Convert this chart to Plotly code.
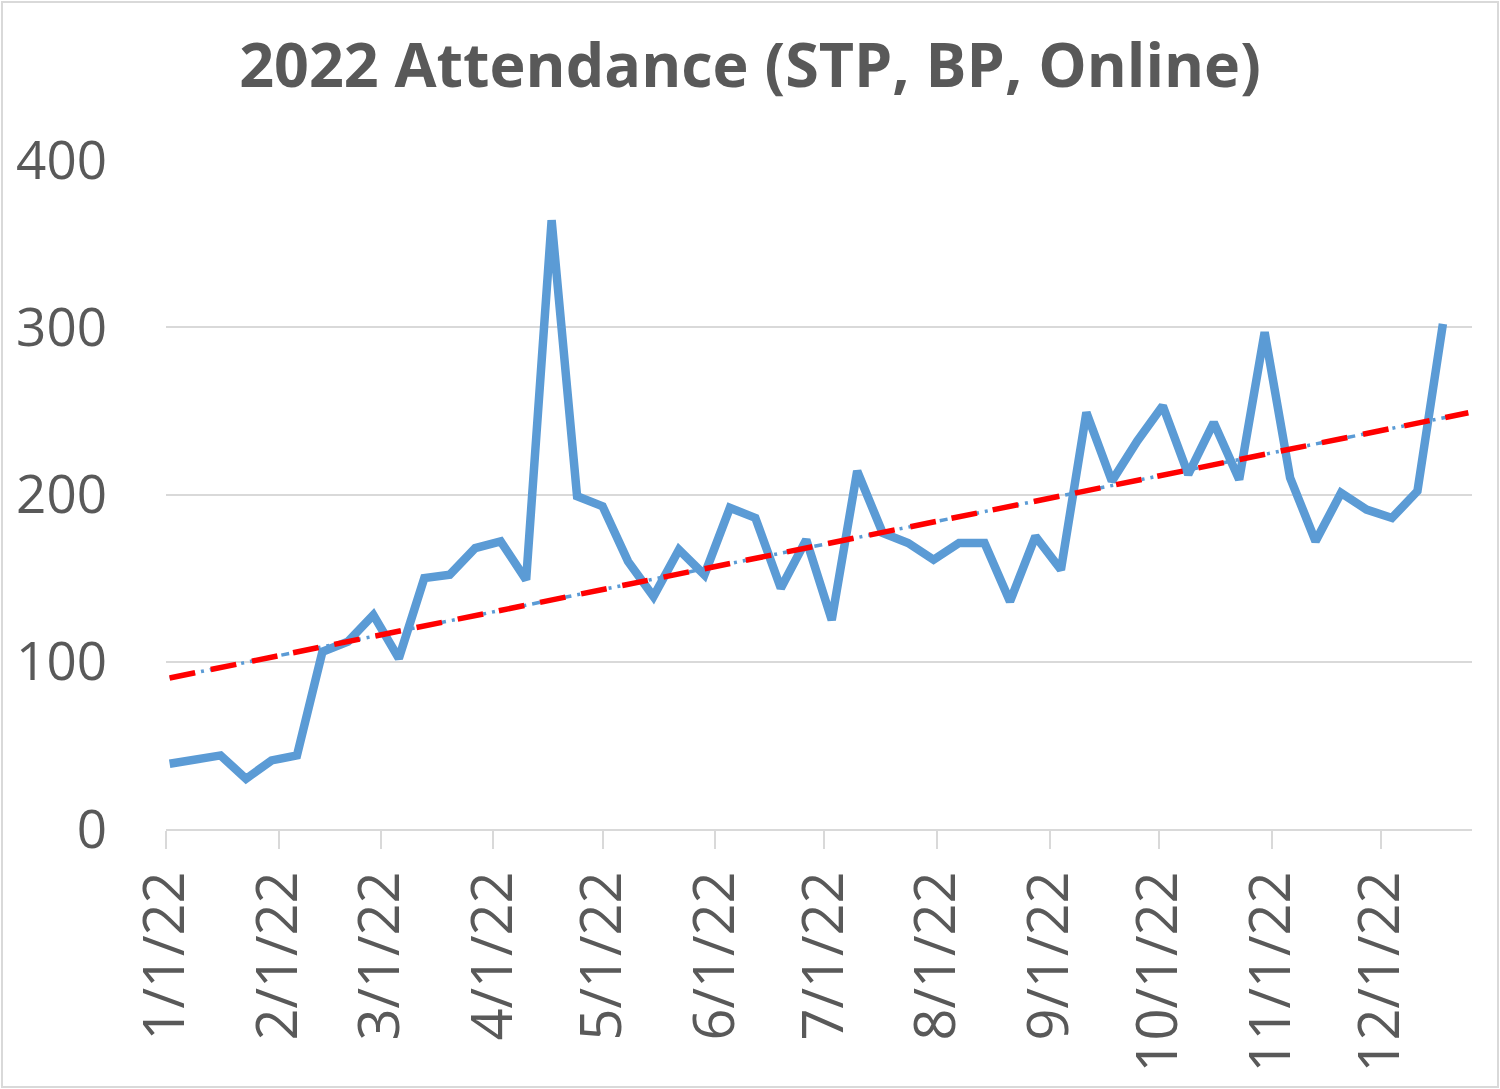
import numpy as np
import pandas as pd
import plotly.graph_objects as go

# weekly attendance, Sundays of 2022
dates = [
    "2022-01-02", "2022-01-09", "2022-01-16", "2022-01-23", "2022-01-30",
    "2022-02-06", "2022-02-13", "2022-02-20", "2022-02-27", "2022-03-06",
    "2022-03-13", "2022-03-20", "2022-03-27", "2022-04-03", "2022-04-10",
    "2022-04-17", "2022-04-24", "2022-05-01", "2022-05-08", "2022-05-15",
    "2022-05-22", "2022-05-29", "2022-06-05", "2022-06-12", "2022-06-19",
    "2022-06-26", "2022-07-03", "2022-07-10", "2022-07-17", "2022-07-24",
    "2022-07-31", "2022-08-07", "2022-08-14", "2022-08-21", "2022-08-28",
    "2022-09-04", "2022-09-11", "2022-09-18", "2022-09-25", "2022-10-02",
    "2022-10-09", "2022-10-16", "2022-10-23", "2022-10-30", "2022-11-06",
    "2022-11-13", "2022-11-20", "2022-11-27", "2022-12-04", "2022-12-11",
    "2022-12-18",
]
attendance = [
    39, 41, 44, 30, 41, 44, 106, 112, 128, 102,
    150, 152, 168, 172, 149, 364, 199, 193, 160, 139,
    167, 152, 192, 186, 144, 173, 125, 214, 177, 171,
    161, 171, 171, 136, 175, 155, 249, 208, 232, 253,
    212, 243, 209, 297, 210, 172, 201, 191, 186, 202,
    302,
]
tick_dates = ["2022-01-01", "2022-02-01", "2022-03-01", "2022-04-01", "2022-05-01",
              "2022-06-01", "2022-07-01", "2022-08-01", "2022-09-01", "2022-10-01",
              "2022-11-01", "2022-12-01"]
tick_text = ["1/1/22", "2/1/22", "3/1/22", "4/1/22", "5/1/22", "6/1/22",
             "7/1/22", "8/1/22", "9/1/22", "10/1/22", "11/1/22", "12/1/22"]

# linear trend, forecast one week forward
d = pd.to_datetime(dates)
days = np.array((d - d[0]).days, dtype=float)
slope, icpt = np.polyfit(days, attendance, 1)
trend_x = [d[0], d[-1] + pd.Timedelta(days=7)]
trend_days = np.array([0, days[-1] + 7])
trend_y = slope * trend_days + icpt

grey = "#595959"
font = "Open Sans"

fig = go.Figure()
fig.add_trace(go.Scatter(x=dates, y=attendance, mode="lines",
                         line=dict(color="#5B9BD5", width=8.5)))
fig.add_trace(go.Scatter(x=trend_x, y=trend_y, mode="lines",
                         line=dict(color="#5B9BD5", width=3.5, dash="3px,6px,3px,6px,8px,6px")))
fig.add_trace(go.Scatter(x=trend_x, y=trend_y, mode="lines",
                         line=dict(color="#FF0000", width=5.5, dash="26px,16px")))

fig.update_layout(
    width=1500, height=1089,
    paper_bgcolor="white", plot_bgcolor="white",
    margin=dict(l=166, r=28, t=160, b=260),
    showlegend=False,
    title=dict(text="<b>2022 Attendance (STP, BP, Online)</b>",
               x=0.5, xanchor="center", y=0.940, yanchor="middle",
               font=dict(family=font, size=61, color=grey)),
    font=dict(family=font, color=grey),
    xaxis=dict(
        type="date", range=["2022-01-01", "2022-12-26"],
        tickvals=tick_dates, ticktext=tick_text, tickangle=-90,
        tickfont=dict(size=56, color=grey),
        showgrid=False, showline=True, linecolor="#D9D9D9", linewidth=2,
        ticks="outside", ticklen=18, tickcolor="#D9D9D9", tickwidth=2,
        zeroline=False,
    ),
    yaxis=dict(
        range=[0, 400], tickvals=[0, 100, 200, 300, 400],
        tickfont=dict(size=53, color=grey),
        showgrid=True, gridcolor="#D9D9D9", gridwidth=2,
        showline=False, zeroline=False, ticks="", ticklabelstandoff=58,
    ),
    shapes=[dict(type="rect", xref="paper", yref="paper",
                 x0=-164 / 1306, x1=1 + 26 / 1306, y0=-258 / 669, y1=1 + 158 / 669,
                 line=dict(color="#D9D9D9", width=2), fillcolor="rgba(0,0,0,0)")],
)

fig.write_html("out.html", config={"displayModeBar": False},
               post_script="document.body.style.margin='0';")
